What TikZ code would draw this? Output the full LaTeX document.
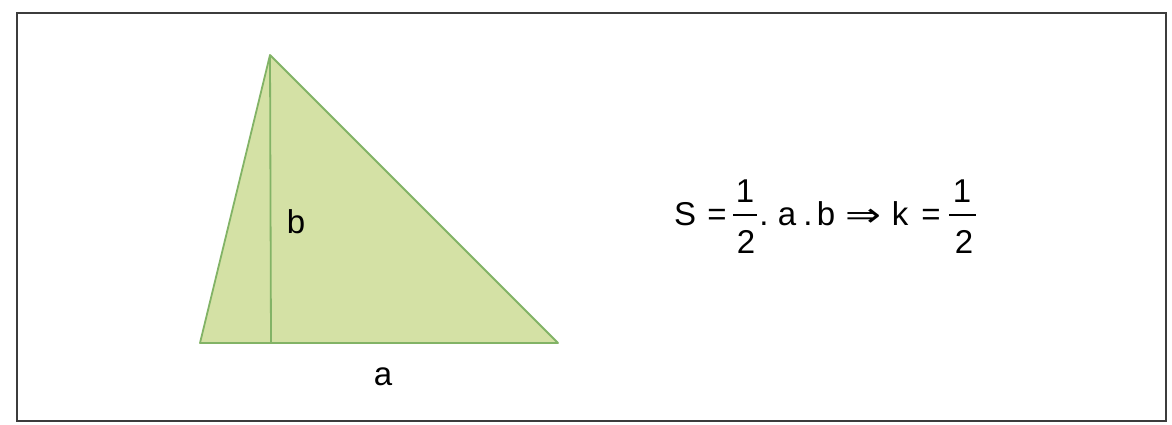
\documentclass[tikz,border=0pt]{standalone}
\usepackage{fontspec}
\setmainfont{Liberation Sans}
\newfontfamily\symfont{DejaVu Sans}
\definecolor{trifill}{RGB}{212,225,165}
\definecolor{tristroke}{RGB}{130,179,102}
\definecolor{framecol}{RGB}{60,60,60}
\begin{document}
\begin{tikzpicture}[x=1pt,y=-1pt,
  lbl/.style={inner sep=0pt,anchor=base,font=\fontsize{33}{38}\selectfont},
  edge/.style={draw=tristroke,line width=1.8pt},
  fracbar/.style={draw=black,line width=1.6pt}]
\useasboundingbox (0,0) rectangle (1172,424);
\fill[white] (0,0) rectangle (1172,424);
\draw[framecol,line width=2pt] (17,13) rectangle (1166,421);
% triangle
\coordinate (A) at (270,55);
\coordinate (B) at (200,343);
\coordinate (C) at (558,343);
\coordinate (H) at (271,343);
\filldraw[fill=trifill,edge,line join=round] (A) -- (B) -- (C) -- cycle;
\draw[edge] (A) -- (H);
\node[lbl] (lb) at (296,233) {b};
\node[lbl] (la) at (383,385) {a};
% formula
\node[lbl] (S) at (685,225) {S};
\node[lbl] (eq1) at (717,225) {=};
\node[lbl] (n1) at (745,202) {1};
\coordinate (f1l) at (733,215);
\coordinate (f1r) at (757,215);
\draw[fracbar] (f1l) -- (f1r);
\node[lbl] (d1) at (746,253) {2};
\node[lbl] (dot1) at (764,225) {.};
\node[lbl] (va) at (787,225) {a};
\node[lbl] (dot2) at (808,225) {.};
\node[lbl] (vb) at (826,225) {b};
\node[lbl,xscale=1.3] (imp) at (863,226) {\symfont ⇒};
\node[lbl] (vk) at (900,225) {k};
\node[lbl] (eq2) at (931,225) {=};
\node[lbl] (n2) at (962,202) {1};
\coordinate (f2l) at (949,215);
\coordinate (f2r) at (976,215);
\draw[fracbar] (f2l) -- (f2r);
\node[lbl] (d2) at (964,253) {2};
\end{tikzpicture}
\end{document}
